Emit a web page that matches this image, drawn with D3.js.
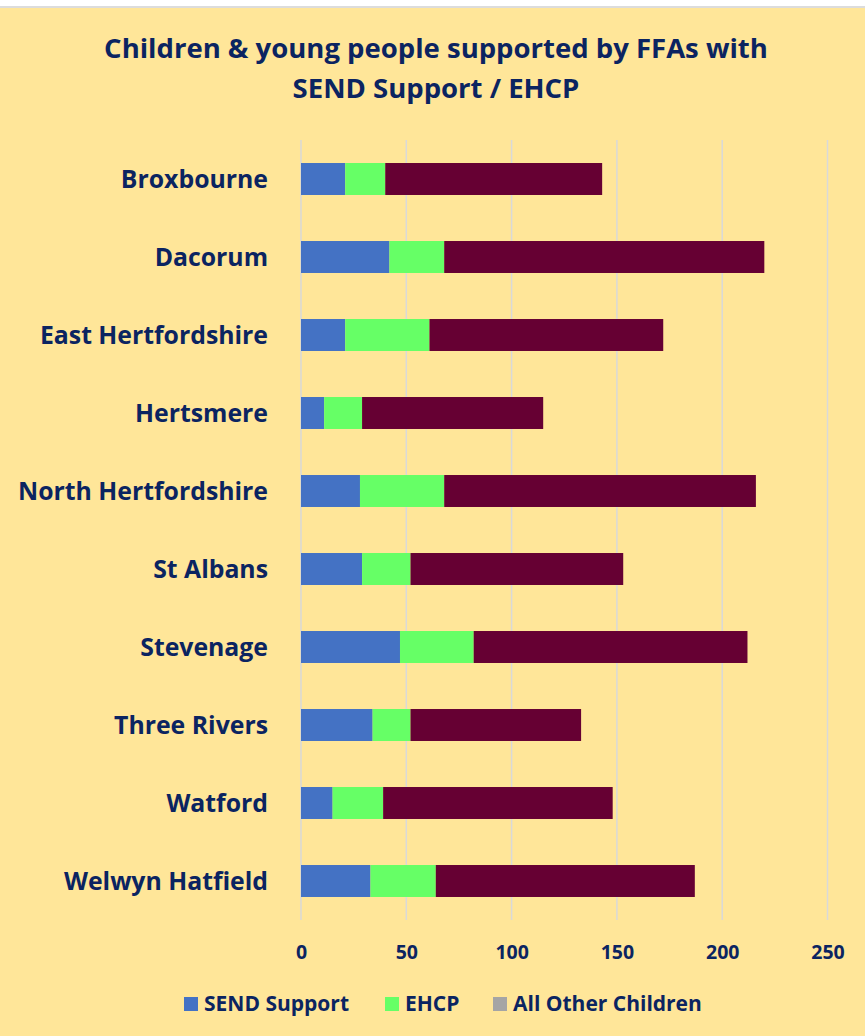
<!DOCTYPE html>
<html>
<head>
<meta charset="utf-8">
<script src="https://cdn.jsdelivr.net/npm/d3@7"></script>
<style>
  body { margin: 0; background: #ffffff; }
  text { font-family: "Open Sans", "Noto Sans", sans-serif; }
</style>
</head>
<body>
<div id="chart"></div>
<script>
// Chart data
var districts = ["Broxbourne", "Dacorum", "East Hertfordshire", "Hertsmere", "North Hertfordshire",
  "St Albans", "Stevenage", "Three Rivers", "Watford", "Welwyn Hatfield"];
var sendSupport = [21, 42, 21, 11, 28, 29, 47, 34, 15, 33];
var ehcp = [19, 26, 40, 18, 40, 23, 35, 18, 24, 31];
var allOther = [103, 152, 111, 86, 148, 101, 130, 81, 109, 123];
var seriesNames = ["SEND Support", "EHCP", "All Other Children"];
var xTicks = [0, 50, 100, 150, 200, 250];

var svgWidth = 865;
var svgHeight = 1036;

var navy = "#0b2461";
var barColors = ["#4472c4", "#66ff66", "#660033"];
var legendColors = ["#4472c4", "#66ff66", "#a5a5a5"];

var svg = d3.select("#chart")
  .append("svg")
  .attr("width", svgWidth)
  .attr("height", svgHeight);

// page edge and yellow panel
svg.append("rect")
  .attr("x", 0).attr("y", 6)
  .attr("width", svgWidth).attr("height", 2)
  .attr("fill", "#dcdcdc");
svg.append("rect")
  .attr("x", 0).attr("y", 8)
  .attr("width", svgWidth).attr("height", svgHeight - 8)
  .attr("fill", "#ffe699");

// Title
var title = svg.append("text")
  .attr("x", 436)
  .attr("text-anchor", "middle")
  .attr("fill", navy)
  .attr("font-size", 27.5)
  .attr("font-weight", "bold");
title.append("tspan").attr("x", 436).attr("y", 58).text("Children & young people supported by FFAs with");
title.append("tspan").attr("x", 436).attr("y", 98).text("SEND Support / EHCP");

// build the stacked table from the arrays
var table = districts.map(function(d, i) {
  return { district: d, "SEND Support": sendSupport[i], "EHCP": ehcp[i], "All Other Children": allOther[i] };
});
var stacked = d3.stack().keys(seriesNames)(table);

var xScale = d3.scaleLinear()
  .domain([0, 250])
  .range([301, 827.5]);

var yScale = d3.scaleBand()
  .domain(districts)
  .range([140, 920])
  .paddingInner(0.59)
  .paddingOuter(0.295);

// vertical gridlines
svg.append("g")
  .selectAll("line")
  .data(xTicks)
  .enter()
  .append("line")
  .attr("x1", d => xScale(d))
  .attr("x2", d => xScale(d))
  .attr("y1", 140)
  .attr("y2", 920)
  .attr("stroke", "#d9d9d9")
  .attr("stroke-width", 1.5);

// bars
svg.append("g")
  .selectAll("g")
  .data(stacked)
  .enter()
  .append("g")
  .attr("fill", (d, i) => barColors[i])
  .selectAll("rect")
  .data(d => d)
  .enter()
  .append("rect")
  .attr("x", d => xScale(d[0]))
  .attr("y", d => yScale(d.data.district))
  .attr("width", d => xScale(d[1]) - xScale(d[0]))
  .attr("height", yScale.bandwidth());

// x axis
var bottomAxis = d3.axisBottom(xScale)
  .tickValues(xTicks)
  .tickSize(0)
  .tickPadding(0);
var xAxis = svg.append("g")
  .attr("transform", "translate(0, 959)")
  .call(bottomAxis);
xAxis.select(".domain").remove();
xAxis.selectAll("text")
  .attr("fill", navy)
  .attr("font-size", 19.5)
  .attr("font-weight", "bold")
  .attr("dy", 0);

// y axis (category labels)
var leftAxis = d3.axisLeft(yScale)
  .tickSize(0)
  .tickPadding(0);
var yAxis = svg.append("g")
  .attr("transform", "translate(268, 0)")
  .call(leftAxis);
yAxis.select(".domain").remove();
yAxis.selectAll("text")
  .attr("fill", navy)
  .attr("font-size", 24.8)
  .attr("font-weight", "bold")
  .attr("dy", "0.35em");

// legend
var legendX = [184, 385, 493];
var legend = svg.append("g")
  .selectAll("g")
  .data(seriesNames)
  .enter()
  .append("g")
  .attr("transform", (d, i) => `translate(${legendX[i]}, 997)`);
legend.append("rect")
  .attr("width", 14)
  .attr("height", 14)
  .attr("fill", (d, i) => legendColors[i]);
legend.append("text")
  .attr("x", 20)
  .attr("y", 14)
  .attr("fill", navy)
  .attr("font-size", 21)
  .attr("font-weight", "bold")
  .text(d => d);
</script>
</body>
</html>
